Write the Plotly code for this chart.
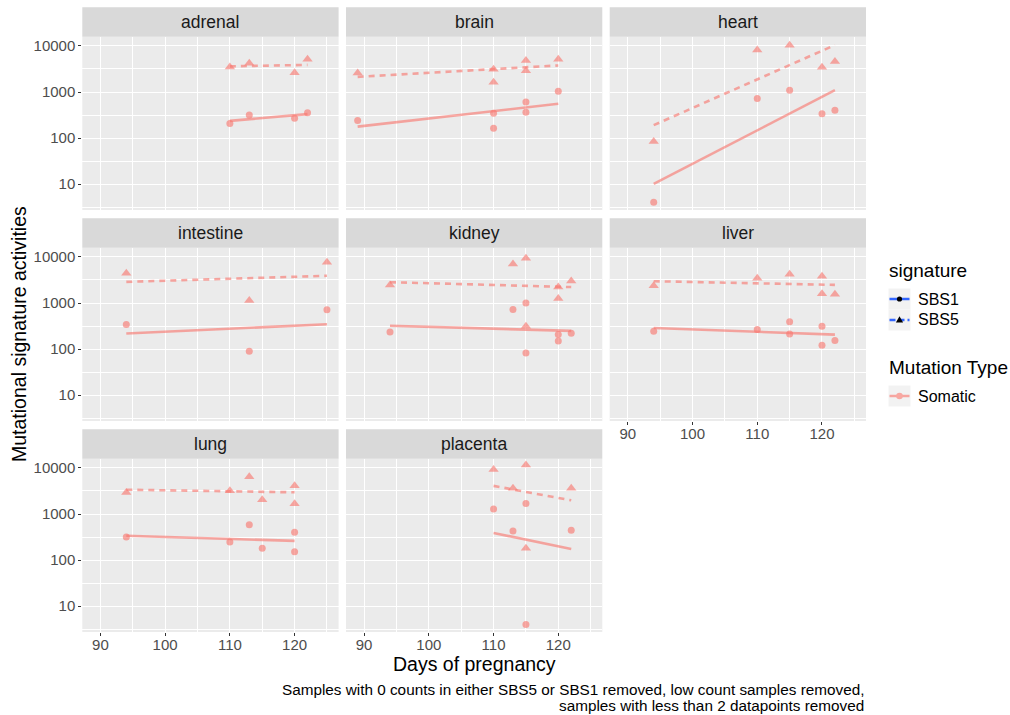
import numpy as np
import plotly.graph_objects as go

# ---------------- data ----------------
tissues = ["adrenal", "brain", "heart", "intestine", "kidney", "liver", "lung", "placenta"]

adrenal_sbs1_day = [110, 113, 120, 122]
adrenal_sbs1 = [207, 318, 270, 357]
adrenal_sbs5_day = [110, 113, 120, 122]
adrenal_sbs5 = [3470, 4200, 2630, 5140]

brain_sbs1_day = [89, 110, 110, 115, 115, 120]
brain_sbs1 = [240, 347, 164, 610, 364, 1040]
brain_sbs5_day = [89, 110, 110, 115, 115, 120]
brain_sbs5 = [2570, 3120, 1630, 4800, 2910, 5140]

heart_sbs1_day = [94, 110, 115, 120, 122]
heart_sbs1 = [4.07, 720, 1094, 339, 403]
heart_sbs5_day = [94, 110, 115, 120, 122]
heart_sbs5 = [84, 8190, 10350, 3450, 4570]

intestine_sbs1_day = [94, 113, 125]
intestine_sbs1 = [342, 89.5, 711]
intestine_sbs5_day = [94, 113, 125]
intestine_sbs5 = [4420, 1140, 7680]

kidney_sbs1_day = [94, 113, 115, 115, 120, 120, 122]
kidney_sbs1 = [236, 725, 1000, 82, 207, 150, 221]
kidney_sbs5_day = [94, 113, 115, 115, 120, 120, 122]
kidney_sbs5 = [2450, 7030, 9380, 314, 2220, 1260, 3000]

liver_sbs1_day = [94, 110, 115, 115, 120, 120, 122]
liver_sbs1 = [244, 266, 390, 213, 314, 121, 153]
liver_sbs5_day = [94, 110, 115, 120, 120, 122]
liver_sbs5 = [2370, 3440, 4200, 3800, 1590, 1540]

lung_sbs1_day = [94, 110, 113, 115, 120, 120]
lung_sbs1 = [318, 248, 582, 181, 404, 152]
lung_sbs5_day = [94, 110, 113, 115, 120, 120]
lung_sbs5 = [2940, 3200, 6460, 2040, 4110, 1670]

placenta_sbs1_day = [110, 113, 115, 115, 122]
placenta_sbs1 = [1280, 430, 1695, 4.0, 446]
placenta_sbs5_day = [110, 113, 115, 115, 122]
placenta_sbs5 = [9190, 3600, 11600, 181, 3600]

x_ticks = [90, 100, 110, 120]
y_ticks = [10, 100, 1000, 10000]
y_tick_labels = ["10", "100", "1000", "10000"]

series = {
    "adrenal": (adrenal_sbs1_day, adrenal_sbs1, adrenal_sbs5_day, adrenal_sbs5),
    "brain": (brain_sbs1_day, brain_sbs1, brain_sbs5_day, brain_sbs5),
    "heart": (heart_sbs1_day, heart_sbs1, heart_sbs5_day, heart_sbs5),
    "intestine": (intestine_sbs1_day, intestine_sbs1, intestine_sbs5_day, intestine_sbs5),
    "kidney": (kidney_sbs1_day, kidney_sbs1, kidney_sbs5_day, kidney_sbs5),
    "liver": (liver_sbs1_day, liver_sbs1, liver_sbs5_day, liver_sbs5),
    "lung": (lung_sbs1_day, lung_sbs1, lung_sbs5_day, lung_sbs5),
    "placenta": (placenta_sbs1_day, placenta_sbs1, placenta_sbs5_day, placenta_sbs5),
}

# ---------------- styling / layout ----------------
W, H = 1010, 715
FONT = "Liberation Sans, Arial, Helvetica, sans-serif"
PT_COLOR = "rgba(248,118,109,0.62)"
LINE_COLOR = "rgba(248,118,109,0.62)"
PANEL_BG = "#EBEBEB"
STRIP_BG = "#D9D9D9"

col_x = [(82.3, 338.6), (346.0, 602.3), (609.7, 866.0)]
row_y = [(36.7, 210.0), (247.7, 421.0), (458.7, 632.0)]
strip_h = 29.4


def px(x):
    return x / W


def py(y):
    return 1 - y / H


def fit_line(days, vals):
    d = np.asarray(days, float)
    lv = np.log10(np.asarray(vals, float))
    slope, icpt = np.polyfit(d, lv, 1)
    xs = np.array([d.min(), d.max()])
    return xs, 10 ** (icpt + slope * xs)


fig = go.Figure()
shapes = []
annotations = []

for i, t in enumerate(tissues):
    r, c = divmod(i, 3)
    n = i + 1
    xa = "x" if n == 1 else f"x{n}"
    ya = "y" if n == 1 else f"y{n}"
    d1, v1, d5, v5 = series[t]

    for dd, vv, dash in [(d1, v1, "solid"), (d5, v5, "6px,5px")]:
        xs, ys = fit_line(dd, vv)
        fig.add_trace(go.Scatter(x=xs, y=ys, mode="lines", xaxis=xa, yaxis=ya,
                                 line=dict(color=LINE_COLOR, width=2.6, dash=dash),
                                 showlegend=False, hoverinfo="skip"))
    fig.add_trace(go.Scatter(x=d1, y=v1, mode="markers", xaxis=xa, yaxis=ya,
                             marker=dict(symbol="circle", size=7, color=PT_COLOR),
                             showlegend=False, name=f"{t} SBS1"))
    fig.add_trace(go.Scatter(x=d5, y=v5, mode="markers", xaxis=xa, yaxis=ya,
                             marker=dict(symbol="triangle-up", size=9, color=PT_COLOR),
                             showlegend=False, name=f"{t} SBS5"))

    x0, x1 = col_x[c]
    y0, y1 = row_y[r]
    bottom = (r == 2) or (i == 5)
    left = (c == 0)
    xkey = "xaxis" if n == 1 else f"xaxis{n}"
    ykey = "yaxis" if n == 1 else f"yaxis{n}"
    fig.layout[xkey] = dict(
        domain=[px(x0), px(x1)], anchor=ya, range=[87.2, 126.8],
        tickmode="array", tickvals=x_ticks, ticktext=[str(v) for v in x_ticks],
        showticklabels=bottom, ticks="outside" if bottom else "", ticklen=3,
        ticklabelstandoff=-4,
        tickcolor="#333333", tickwidth=1,
        tickfont=dict(family=FONT, size=15, color="#4D4D4D"),
        showgrid=True, gridcolor="white", gridwidth=1.2, zeroline=False,
        showline=False, automargin=False,
        minor=dict(tickmode="array", tickvals=[85, 95, 105, 115, 125],
                   showgrid=True, gridcolor="white", gridwidth=0.6, ticks=""),
    )
    fig.layout[ykey] = dict(
        domain=[py(y1), py(y0)], anchor=xa, type="log", range=[0.44, 4.2],
        tickmode="array", tickvals=y_ticks, ticktext=y_tick_labels,
        showticklabels=left, ticks="outside" if left else "", ticklen=3,
        tickcolor="#333333", tickwidth=1,
        tickfont=dict(family=FONT, size=15, color="#4D4D4D"),
        showgrid=True, gridcolor="white", gridwidth=1.2, zeroline=False,
        showline=False, automargin=False,
        minor=dict(tickmode="array",
                   tickvals=[10 ** 0.5, 10 ** 1.5, 10 ** 2.5, 10 ** 3.5],
                   showgrid=True, gridcolor="white", gridwidth=0.6, ticks=""),
    )
    # strip
    shapes.append(dict(type="rect", xref="paper", yref="paper",
                       x0=px(x0), x1=px(x1), y0=py(y0), y1=py(y0 - strip_h),
                       fillcolor=STRIP_BG, line=dict(width=0), layer="below"))
    annotations.append(dict(text=t, xref="paper", yref="paper",
                            x=px((x0 + x1) / 2), y=py(y0 - strip_h / 2),
                            showarrow=False, xanchor="center", yanchor="middle",
                            font=dict(family=FONT, size=17.5, color="#1A1A1A")))

# axis titles
annotations.append(dict(text="Days of pregnancy", xref="paper", yref="paper",
                        x=px((82.3 + 866) / 2), y=py(664), showarrow=False,
                        xanchor="center", yanchor="middle",
                        font=dict(family=FONT, size=19.5, color="black")))
annotations.append(dict(text="Mutational signature activities", xref="paper", yref="paper",
                        x=px(19), y=py(334), showarrow=False, textangle=-90,
                        xanchor="center", yanchor="middle",
                        font=dict(family=FONT, size=19.5, color="black")))
# caption (two right-aligned lines)
for line_txt, yc in [("Samples with 0 counts in either SBS5 or SBS1 removed, low count samples removed,", 689),
                     ("samples with less than 2 datapoints removed", 705)]:
    annotations.append(dict(text=line_txt, xref="paper", yref="paper", x=px(866), y=py(yc),
                            showarrow=False, xanchor="right", yanchor="middle", align="right",
                            font=dict(family=FONT, size=15.3, color="black")))

# ---------------- manual legend ----------------
LX0, LX1 = 888.5, 910.5
KX = (LX0 + LX1) / 2
annotations.append(dict(text="signature", xref="paper", yref="paper", x=px(887), y=py(270),
                        showarrow=False, xanchor="left", yanchor="middle",
                        font=dict(family=FONT, size=19, color="black")))
annotations.append(dict(text="Mutation Type", xref="paper", yref="paper", x=px(887), y=py(368),
                        showarrow=False, xanchor="left", yanchor="middle",
                        font=dict(family=FONT, size=19, color="black")))
for label, yc in [("SBS1", 299), ("SBS5", 320), ("Somatic", 396)]:
    annotations.append(dict(text=label, xref="paper", yref="paper", x=px(915.5), y=py(yc),
                            showarrow=False, xanchor="left", yanchor="middle",
                            font=dict(family=FONT, size=16, color="black")))
# key backgrounds
for (ya0, ya1) in [(288.5, 309.5), (309.5, 330.5), (385.5, 406.5)]:
    shapes.append(dict(type="rect", xref="paper", yref="paper",
                       x0=px(LX0), x1=px(LX1), y0=py(ya1), y1=py(ya0),
                       fillcolor="#F2F2F2", line=dict(width=0)))
# SBS1 key
shapes.append(dict(type="line", xref="paper", yref="paper", x0=px(LX0 + 1), x1=px(LX1 - 1),
                   y0=py(299), y1=py(299), line=dict(color="#3366FF", width=2.5)))
shapes.append(dict(type="circle", xref="paper", yref="paper", x0=px(KX - 2.6),
                   x1=px(KX + 2.6), y0=py(299 + 2.6), y1=py(299 - 2.6),
                   fillcolor="black", line=dict(width=0)))
# SBS5 key
shapes.append(dict(type="line", xref="paper", yref="paper", x0=px(LX0 + 1), x1=px(LX1 - 1),
                   y0=py(320), y1=py(320), line=dict(color="#3366FF", width=2.5, dash="6px,3px")))
tx, ty = KX, 320
shapes.append(dict(type="path", xref="paper", yref="paper",
                   path=f"M {px(tx - 3.6)},{py(ty + 2.4)} L {px(tx + 3.6)},{py(ty + 2.4)} "
                        f"L {px(tx)},{py(ty - 3.8)} Z",
                   fillcolor="black", line=dict(width=0)))
# Somatic key
shapes.append(dict(type="line", xref="paper", yref="paper", x0=px(LX0 + 1), x1=px(LX1 - 1),
                   y0=py(396), y1=py(396), line=dict(color=LINE_COLOR, width=2.5)))
shapes.append(dict(type="circle", xref="paper", yref="paper", x0=px(KX - 3.3),
                   x1=px(KX + 3.3), y0=py(396 + 3.3), y1=py(396 - 3.3),
                   fillcolor="rgb(248,168,162)", line=dict(width=0)))

fig.update_layout(
    width=W, height=H, autosize=False,
    margin=dict(l=0, r=0, t=0, b=0, pad=0),
    paper_bgcolor="white", plot_bgcolor=PANEL_BG,
    showlegend=False, shapes=shapes, annotations=annotations,
    font=dict(family=FONT),
)

fig.write_html("out.html",
               config={"displayModeBar": False},
               post_script="document.body.style.margin='0';document.body.style.padding='0';"
                           "document.body.style.overflow='hidden';")
